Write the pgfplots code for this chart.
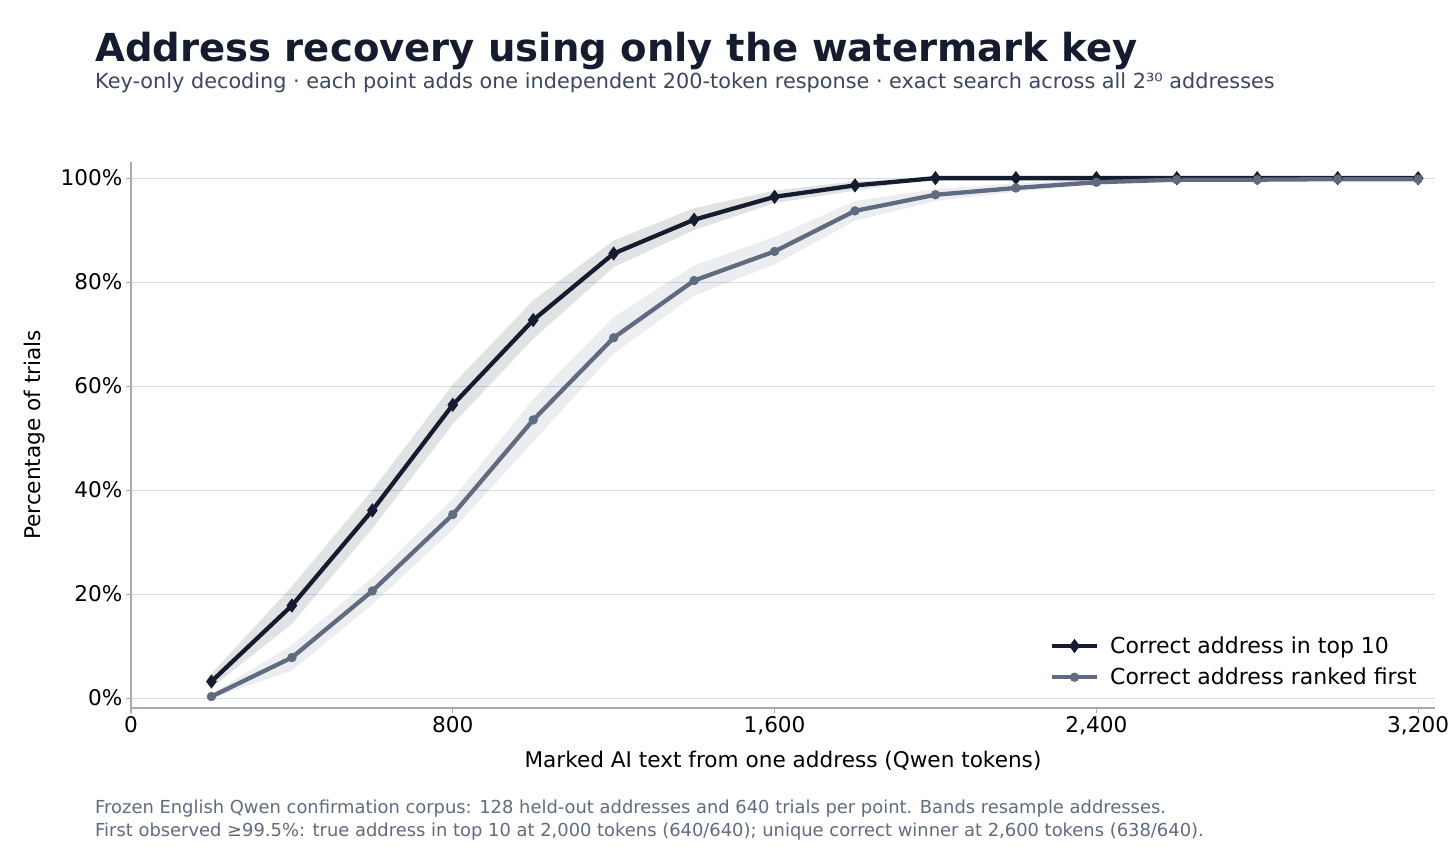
\documentclass[border=0pt]{standalone}
\usepackage{fontspec}
\setmainfont{DejaVu Sans}
\usepackage{pgfplots}
\pgfplotsset{compat=1.18}
\definecolor{navy}{HTML}{151C30}
\definecolor{slate}{HTML}{5F6B80}
\definecolor{gridc}{HTML}{D5DCE2}
\definecolor{spine}{HTML}{A3ABB8}
\definecolor{subc}{HTML}{3B4660}
\definecolor{footc}{HTML}{5F6B80}
\begin{document}
\begin{tikzpicture}
\path[use as bounding box] (0pt,0pt) rectangle (1456pt,854pt);
\node[anchor=base west, inner sep=0pt, text=navy, font=\fontsize{38.6}{44}\selectfont\bfseries] at (95pt,792pt) {Address recovery using only the watermark key};
\node[anchor=base west, inner sep=0pt, text=subc, font=\fontsize{20.8}{25}\selectfont] at (95pt,765pt) {Key-only decoding · each point adds one independent 200-token response · exact search across all 2³⁰ addresses};
\node[anchor=base west, inner sep=0pt, text=footc, font=\fontsize{17.9}{21}\selectfont] at (95pt,41pt) {Frozen English Qwen confirmation corpus: 128 held-out addresses and 640 trials per point. Bands resample addresses.};
\node[anchor=base west, inner sep=0pt, text=footc, font=\fontsize{17.9}{21}\selectfont] at (95pt,18pt) {First observed ≥99.5\%: true address in top 10 at 2,000 tokens (640/640); unique correct winner at 2,600 tokens (638/640).};
\begin{axis}[
  at={(131pt,146pt)}, anchor=south west,
  scale only axis, width=1304pt, height=546pt,
  xmin=0, xmax=3242, ymin=-1.9, ymax=103.1,
  axis lines*=left,
  axis line style={spine, line width=1.3pt},
  tick align=outside, major tick length=5pt,
  tick style={spine, line width=1.2pt},
  xtick={0,800,1600,2400,3200},
  xticklabels={0,800,{1,600},{2,400},{3,200}},
  ytick={0,20,40,60,80,100},
  yticklabels={0\%,20\%,40\%,60\%,80\%,100\%},
  ticklabel style={font=\fontsize{21.6}{26}\selectfont, text=black},
  ymajorgrids, grid style={gridc, line width=1.2pt},
  xlabel={Marked AI text from one address (Qwen tokens)},
  ylabel={Percentage of trials},
  xlabel style={font=\fontsize{21.6}{26}\selectfont, at={(axis description cs:0.5,-0.097)}, anchor=center},
  ylabel style={font=\fontsize{21.6}{26}\selectfont, at={(axis description cs:-0.0736,0.5)}, anchor=center, rotate=0},
  legend style={draw=none, fill=none, font=\fontsize{22}{26}\selectfont, at={(axis description cs:0.99,0.032)}, anchor=south east, row sep=9pt},
  legend cell align=left,
  legend image code/.code={\draw[#1, mark repeat=2, mark phase=2] plot coordinates {(0pt,0pt) (22.5pt,0pt) (45pt,0pt)}; \path (54pt,0pt);},
]
\addplot[fill=navy, fill opacity=0.13, draw=none, forget plot] coordinates {
(200,4.7) (400,21.5) (600,40.0) (800,60.3) (1000,76.5) (1200,88.0) (1400,94.2) (1600,97.6) (1800,99.4) (2000,100) (2200,100) (2400,100) (2600,100) (2800,100) (3000,100) (3200,100)
(3200,100) (3000,100) (2800,100) (2600,100) (2400,100) (2200,100) (2000,100) (1800,97.6) (1600,95.2) (1400,90.0) (1200,82.9) (1000,69.1) (800,52.7) (600,32.6) (400,14.3) (200,2.0)} -- cycle;
\addplot[fill=slate, fill opacity=0.12, draw=none, forget plot] coordinates {
(200,0.8) (400,10.2) (600,23.2) (800,38.3) (1000,57.5) (1200,73.3) (1400,83.2) (1600,88.7) (1800,95.6) (2000,97.9) (2200,99.0) (2400,99.8) (2600,100) (2800,100) (3000,100) (3200,100)
(3200,99.5) (3000,99.5) (2800,99.3) (2600,99.3) (2400,98.8) (2200,97.4) (2000,95.6) (1800,91.8) (1600,83.4) (1400,77.4) (1200,66.3) (1000,49.3) (800,32.4) (600,18.0) (400,5.3) (200,0.0)} -- cycle;
\addplot[navy, line width=4.3pt, mark=diamond*, mark size=6.5pt, mark options={solid, line width=0.8pt}] coordinates {
(200,3.2) (400,17.8) (600,36.1) (800,56.4) (1000,72.7) (1200,85.5) (1400,92.0) (1600,96.4) (1800,98.6) (2000,100) (2200,100) (2400,100) (2600,100) (2800,100) (3000,100) (3200,100)};
\addlegendentry{Correct address in top 10}
\addplot[slate, line width=4.3pt, mark=*, mark size=4.4pt, mark options={solid, line width=0.5pt}] coordinates {
(200,0.3) (400,7.8) (600,20.6) (800,35.3) (1000,53.5) (1200,69.3) (1400,80.3) (1600,85.9) (1800,93.7) (2000,96.8) (2200,98.1) (2400,99.2) (2600,99.7) (2800,99.7) (3000,99.8) (3200,99.8)};
\addlegendentry{Correct address ranked first}
\end{axis}
\end{tikzpicture}
\end{document}
